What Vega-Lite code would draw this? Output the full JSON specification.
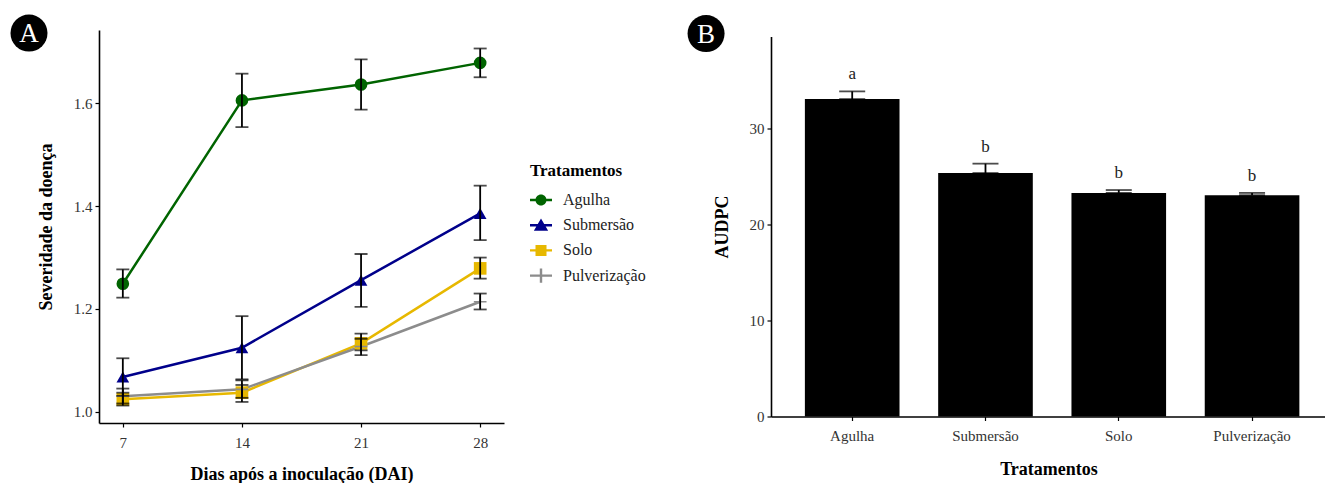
{
  "$schema": "https://vega.github.io/schema/vega-lite/v6.json",
  "padding": {"left": 10, "top": 14, "right": 0, "bottom": 0},
  "bounds": "flush",
  "center": true,
  "spacing": 267,
  "config": {
    "font": "Liberation Serif",
    "view": {"stroke": null},
    "style": {"guide-label": {"font": "Liberation Serif"}, "guide-title": {"font": "Liberation Serif"}},
    "legend": {"labelFont": "Liberation Serif", "titleFont": "Liberation Serif"},
    "axis": {
      "grid": false,
      "domainColor": "black",
      "domainWidth": 1.6,
      "tickColor": "black",
      "tickWidth": 1.2,
      "tickSize": 4,
      "labelColor": "#333333",
      "labelFontSize": 15,
      "labelPadding": 3,
      "titleColor": "black",
      "titleFontSize": 18,
      "titleFontWeight": "bold"
    }
  },
  "datasets": {
    "sev": [
      {"dia": 7, "trat": "Agulha", "sev": 1.249, "lo": 1.222, "hi": 1.277},
      {"dia": 14, "trat": "Agulha", "sev": 1.606, "lo": 1.554, "hi": 1.658},
      {"dia": 21, "trat": "Agulha", "sev": 1.637, "lo": 1.588, "hi": 1.686},
      {"dia": 28, "trat": "Agulha", "sev": 1.679, "lo": 1.651, "hi": 1.707},
      {"dia": 7, "trat": "Submersão", "sev": 1.0675, "lo": 1.031, "hi": 1.104},
      {"dia": 14, "trat": "Submersão", "sev": 1.1245, "lo": 1.063, "hi": 1.186},
      {"dia": 21, "trat": "Submersão", "sev": 1.256, "lo": 1.204, "hi": 1.307},
      {"dia": 28, "trat": "Submersão", "sev": 1.386, "lo": 1.334, "hi": 1.44},
      {"dia": 7, "trat": "Solo", "sev": 1.024, "lo": 1.012, "hi": 1.037},
      {"dia": 14, "trat": "Solo", "sev": 1.037, "lo": 1.019, "hi": 1.052},
      {"dia": 21, "trat": "Solo", "sev": 1.133, "lo": 1.1195, "hi": 1.152},
      {"dia": 28, "trat": "Solo", "sev": 1.279, "lo": 1.259, "hi": 1.3},
      {"dia": 7, "trat": "Pulverização", "sev": 1.03, "lo": 1.016, "hi": 1.045},
      {"dia": 14, "trat": "Pulverização", "sev": 1.0435, "lo": 1.027, "hi": 1.061},
      {"dia": 21, "trat": "Pulverização", "sev": 1.127, "lo": 1.11, "hi": 1.142},
      {"dia": 28, "trat": "Pulverização", "sev": 1.214, "lo": 1.199, "hi": 1.23}
    ],
    "audpc": [
      {"trat": "Agulha", "audpc": 33.08, "hi": 33.88, "letra": "a"},
      {"trat": "Submersão", "audpc": 25.37, "hi": 26.35, "letra": "b"},
      {"trat": "Solo", "audpc": 23.3, "hi": 23.6, "letra": "b"},
      {"trat": "Pulverização", "audpc": 23.06, "hi": 23.3, "letra": "b"}
    ]
  },
  "hconcat": [
    {
      "width": 405,
      "height": 393,
      "layer": [
        {
          "data": {"name": "sev"},
          "mark": {"type": "line", "strokeWidth": 2.5},
          "encoding": {
            "x": {"field": "dia", "type": "quantitative", "scale": {"domain": [5.6, 29.4], "nice": false, "zero": false}, "axis": {"title": "Dias após a inoculação (DAI)", "values": [7, 14, 21, 28], "labelPadding": 8, "titlePadding": 15}},
            "y": {"field": "sev", "type": "quantitative", "scale": {"domain": [0.978, 1.743], "nice": false, "zero": false}, "axis": {"title": "Severidade da doença", "values": [1.0, 1.2, 1.4, 1.6], "format": ".1f", "titlePadding": 18}},
            "color": {
              "field": "trat", "type": "nominal",
              "scale": {"domain": ["Agulha", "Submersão", "Solo", "Pulverização"], "range": ["#006400", "#00008B", "#E7B800", "#8C8C8C"]},
              "legend": null
            }
          }
        },
        {
          "data": {"name": "sev"},
          "mark": {"type": "point", "filled": true, "opacity": 1, "size": 160},
          "encoding": {
            "x": {"field": "dia", "type": "quantitative"},
            "y": {"field": "sev", "type": "quantitative"},
            "color": {"field": "trat", "type": "nominal", "legend": null},
            "shape": {
              "field": "trat", "type": "nominal",
              "scale": {"domain": ["Agulha", "Submersão", "Solo", "Pulverização"], "range": ["circle", "triangle-up", "square", "M-1,-0.13H1V0.13H-1Z M-0.13,-1H0.13V1H-0.13Z"]},
              "legend": null
            }
          }
        },
        {
          "data": {"name": "sev"},
          "mark": {"type": "errorbar", "color": "black", "thickness": 1.8, "ticks": {"size": 13, "thickness": 1.8}},
          "encoding": {
            "x": {"field": "dia", "type": "quantitative"},
            "y": {"field": "lo", "type": "quantitative", "title": "Severidade da doença"},
            "y2": {"field": "hi"}
          }
        },
        {
          "data": {"name": "sev"},
          "transform": [{"filter": "false"}],
          "mark": {"type": "point", "filled": true, "opacity": 1},
          "encoding": {
            "x": {"field": "dia", "type": "quantitative"},
            "y": {"field": "sev", "type": "quantitative"},
            "color": {
              "field": "trat", "type": "nominal",
              "legend": {"title": "Tratamentos", "orient": "none", "legendX": 431, "legendY": 133, "symbolSize": 484, "symbolStrokeWidth": 0, "symbolOpacity": 1, "labelFont": "Liberation Serif", "titleFont": "Liberation Serif", "labelFontSize": 16, "labelColor": "#222222", "titleFontSize": 17, "titleFontWeight": "bold", "titleColor": "black", "titlePadding": 9, "rowPadding": 6.2, "labelOffset": 11}
            },
            "shape": {
              "field": "trat", "type": "nominal",
              "scale": {"domain": ["Agulha", "Submersão", "Solo", "Pulverização"], "range": [
                "M-1,-0.11H1V0.11H-1Z M-0.5,0A0.5,0.5 0 1,1 0.5,0A0.5,0.5 0 1,1 -0.5,0Z",
                "M-1,-0.11H1V0.11H-1Z M0,-0.62L0.65,0.5L-0.65,0.5Z",
                "M-1,-0.11H1V0.11H-1Z M-0.5,-0.5H0.5V0.5H-0.5Z",
                "M-1,-0.11H1V0.11H-1Z M-0.11,-0.65H0.11V0.65H-0.11Z"
              ]},
              "legend": {"title": "Tratamentos", "orient": "none", "legendX": 431, "legendY": 133, "symbolSize": 484, "symbolStrokeWidth": 0, "symbolOpacity": 1, "labelFont": "Liberation Serif", "titleFont": "Liberation Serif", "labelFontSize": 16, "labelColor": "#222222", "titleFontSize": 17, "titleFontWeight": "bold", "titleColor": "black", "titlePadding": 9, "rowPadding": 6.2, "labelOffset": 11}
            }
          }
        },
        {
          "data": {"values": [{"bx": 1.486, "by": 1.737, "lab": "A"}]},
          "encoding": {
            "x": {"field": "bx", "type": "quantitative"},
            "y": {"field": "by", "type": "quantitative"}
          },
          "layer": [
            {"mark": {"type": "point", "shape": "circle", "filled": true, "color": "black", "opacity": 1, "size": 1369}},
            {"mark": {"type": "text", "color": "white", "fontSize": 27, "baseline": "middle", "align": "center", "dy": 1}, "encoding": {"text": {"field": "lab"}}}
          ]
        }
      ],
      "resolve": {"scale": {"shape": "independent"}, "legend": {"color": "independent", "shape": "independent"}}
    },
    {
      "width": 555,
      "height": 380,
      "layer": [
        {
          "data": {"name": "audpc"},
          "encoding": {
            "x": {"field": "trat", "type": "nominal", "sort": null, "scale": {"paddingInner": 0.29, "paddingOuter": 0.227, "align": 0.56}, "axis": {"title": "Tratamentos", "labelAngle": 0, "labelPadding": 8, "titlePadding": 17}},
            "y": {"field": "audpc", "type": "quantitative", "scale": {"domain": [0, 39.6], "nice": false}, "axis": {"title": "AUDPC", "values": [0, 10, 20, 30], "titlePadding": 18}}
          },
          "layer": [
            {"mark": {"type": "bar", "color": "black"}},
            {"mark": {"type": "errorbar", "color": "black", "thickness": 1.8, "ticks": {"size": 26, "thickness": 1.8}}, "encoding": {"y2": {"field": "hi"}}},
            {"mark": {"type": "text", "dy": -12, "fontSize": 17, "baseline": "alphabetic", "color": "#222222"}, "encoding": {"y": {"field": "hi", "type": "quantitative", "title": "AUDPC"}, "text": {"field": "letra"}}}
          ]
        },
        {
          "data": {"values": [{"bx": -0.117, "by": 39.9, "lab": "B"}]},
          "encoding": {
            "x": {"field": "bx", "type": "quantitative", "scale": {"domain": [0, 1], "nice": false, "zero": false}, "axis": null},
            "y": {"field": "by", "type": "quantitative", "title": "AUDPC"}
          },
          "layer": [
            {"mark": {"type": "point", "shape": "circle", "filled": true, "color": "black", "opacity": 1, "size": 1369}},
            {"mark": {"type": "text", "color": "white", "fontSize": 27, "baseline": "middle", "align": "center", "dy": 1}, "encoding": {"text": {"field": "lab"}}}
          ]
        }
      ],
      "resolve": {"scale": {"x": "independent"}}
    }
  ]
}
